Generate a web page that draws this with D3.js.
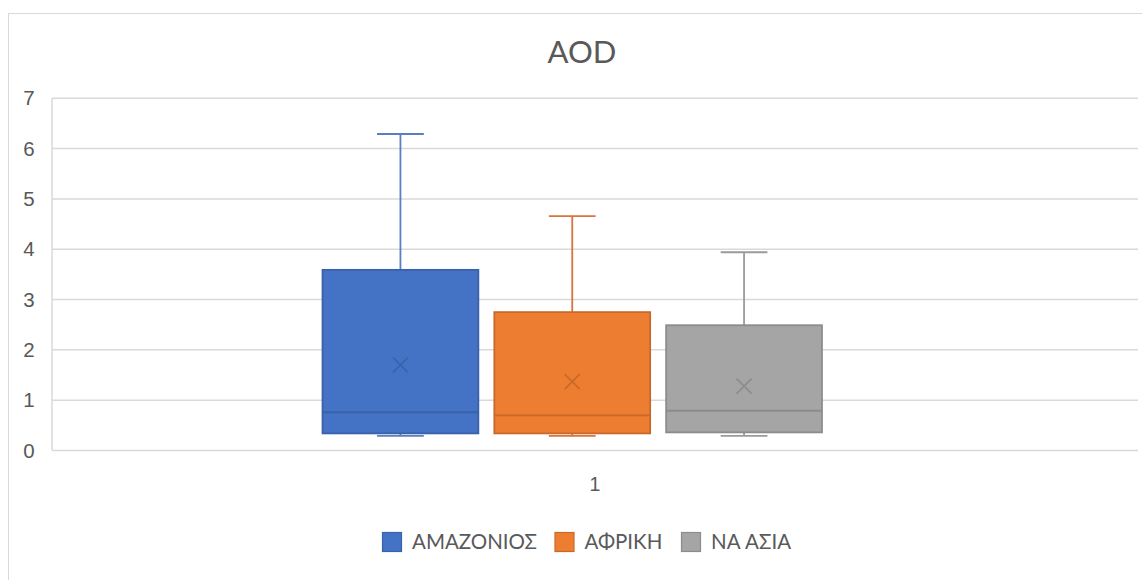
<!DOCTYPE html>
<html>
<head>
<meta charset="utf-8">
<script src="https://cdn.jsdelivr.net/npm/d3@7/dist/d3.min.js"></script>
<style>
  html, body { margin: 0; padding: 0; background: #fff; }
  svg { display: block; font-family: Lato, "Open Sans", "Noto Sans", sans-serif; }
</style>
</head>
<body>
<svg id="chart" width="1142" height="580"></svg>
<script>
// Box-and-whisker summary of AOD for three regions (single category "1")
const chartTitle = "AOD";
const categories = ["1"];
const seriesNames = ["ΑΜΑΖΟΝΙΟΣ", "ΑΦΡΙΚΗ", "ΝΑ ΑΣΙΑ"];
const minValues    = [0.29, 0.29, 0.29];
const q1Values     = [0.34, 0.34, 0.36];
const medianValues = [0.76, 0.70, 0.79];
const q3Values     = [3.59, 2.75, 2.49];
const maxValues    = [6.29, 4.66, 3.94];
const meanValues   = [1.70, 1.37, 1.28];
const yTicks = [0, 1, 2, 3, 4, 5, 6, 7];

const fills   = ["#4472C4", "#ED7D31", "#A5A5A5"];
const strokes = ["#3A62AB", "#C8692A", "#8C8C8C"];
const whiskerColors = ["#5A7EC0", "#D9743A", "#9A9A9A"];

const svg = d3.select("#chart");
const plot = { left: 52, right: 1138, top: 98.3, bottom: 450.5 };

// outer chart frame
svg.append("rect")
  .attr("x", 8.5).attr("y", 13.5)
  .attr("width", 1145).attr("height", 580)
  .attr("fill", "#fff").attr("stroke", "#D9D9D9").attr("stroke-width", 1);

const y = d3.scaleLinear().domain([0, 7]).range([plot.bottom, plot.top]);

// category band and series positions inside it
const x = d3.scaleBand().domain(categories).range([plot.left, plot.right]);
const inner = d3.scaleBand()
  .domain(seriesNames)
  .range([x.bandwidth() * 0.2491, x.bandwidth() * 0.7090])
  .paddingInner(0.093).paddingOuter(0);

// gridlines
svg.append("g")
  .selectAll("line")
  .data(yTicks.filter(t => t > 0))
  .join("line")
  .attr("x1", plot.left).attr("x2", plot.right)
  .attr("y1", d => y(d)).attr("y2", d => y(d))
  .attr("stroke", "#D9D9D9").attr("stroke-width", 1.5);

// axis lines
svg.append("line")
  .attr("x1", plot.left).attr("x2", plot.left)
  .attr("y1", plot.top).attr("y2", plot.bottom)
  .attr("stroke", "#D9D9D9").attr("stroke-width", 1.5);
svg.append("line")
  .attr("x1", plot.left).attr("x2", plot.right)
  .attr("y1", plot.bottom).attr("y2", plot.bottom)
  .attr("stroke", "#D9D9D9").attr("stroke-width", 1.5);

// y axis tick labels
const yAxis = d3.axisLeft(y).tickValues(yTicks).tickSize(0).tickPadding(0)
  .tickFormat(d3.format("d"));
const yg = svg.append("g").attr("transform", `translate(29,0)`).call(yAxis);
yg.select(".domain").remove();
yg.selectAll("text")
  .attr("fill", "#595959").attr("font-size", 20.5).attr("text-anchor", "middle").attr("dx", 0);

// x axis category label
const xAxis = d3.axisBottom(x).tickSize(0).tickPadding(0);
const xg = svg.append("g").attr("transform", `translate(0,${plot.bottom + 27})`).call(xAxis);
xg.select(".domain").remove();
xg.selectAll("text").attr("fill", "#595959").attr("font-size", 19.5);

// boxes
const data = seriesNames.map((name, i) => ({
  name, i,
  min: minValues[i], q1: q1Values[i], med: medianValues[i],
  q3: q3Values[i], max: maxValues[i], mean: meanValues[i]
}));

const g = svg.append("g").attr("transform", `translate(${x(categories[0])},0)`);
const bw = inner.bandwidth();
const capW = bw * 0.3;

const box = g.selectAll("g.box").data(data).join("g").attr("class", "box");

// whiskers
box.append("line")
  .attr("x1", d => inner(d.name) + bw / 2).attr("x2", d => inner(d.name) + bw / 2)
  .attr("y1", d => y(d.q3)).attr("y2", d => y(d.max))
  .attr("stroke", d => whiskerColors[d.i]).attr("stroke-width", 1.8);
box.append("line")
  .attr("x1", d => inner(d.name) + bw / 2).attr("x2", d => inner(d.name) + bw / 2)
  .attr("y1", d => y(d.q1)).attr("y2", d => y(d.min))
  .attr("stroke", d => whiskerColors[d.i]).attr("stroke-width", 1.8);
box.append("line")
  .attr("x1", d => inner(d.name) + bw / 2 - capW / 2).attr("x2", d => inner(d.name) + bw / 2 + capW / 2)
  .attr("y1", d => y(d.max)).attr("y2", d => y(d.max))
  .attr("stroke", d => whiskerColors[d.i]).attr("stroke-width", 1.8);
box.append("line")
  .attr("x1", d => inner(d.name) + bw / 2 - capW / 2).attr("x2", d => inner(d.name) + bw / 2 + capW / 2)
  .attr("y1", d => y(d.min)).attr("y2", d => y(d.min))
  .attr("stroke", d => whiskerColors[d.i]).attr("stroke-width", 1.8);

// interquartile box
box.append("rect")
  .attr("x", d => inner(d.name)).attr("width", bw)
  .attr("y", d => y(d.q3)).attr("height", d => y(d.q1) - y(d.q3))
  .attr("fill", d => fills[d.i]).attr("stroke", d => strokes[d.i]).attr("stroke-width", 1.8);

// median line
box.append("line")
  .attr("x1", d => inner(d.name)).attr("x2", d => inner(d.name) + bw)
  .attr("y1", d => y(d.med)).attr("y2", d => y(d.med))
  .attr("stroke", d => strokes[d.i]).attr("stroke-width", 1.8);

// mean marker (x)
const m = 7.5;
box.append("path")
  .attr("d", d => {
    const cx = inner(d.name) + bw / 2, cy = y(d.mean);
    return `M${cx - m},${cy - m}L${cx + m},${cy + m}M${cx - m},${cy + m}L${cx + m},${cy - m}`;
  })
  .attr("stroke", d => strokes[d.i]).attr("stroke-width", 1.6).attr("fill", "none");

// title
svg.append("text")
  .attr("x", 582).attr("y", 63)
  .attr("text-anchor", "middle")
  .attr("fill", "#595959").attr("font-size", 31)
  .text(chartTitle);

// legend
const legendX = [382, 554.5, 681];
const lg = svg.append("g").selectAll("g").data(seriesNames).join("g")
  .attr("transform", (d, i) => `translate(${legendX[i]},532)`);
lg.append("rect")
  .attr("x", 0.5).attr("y", 0.5).attr("width", 19).attr("height", 19)
  .attr("fill", (d, i) => fills[i]).attr("stroke", (d, i) => strokes[i]).attr("stroke-width", 1.2);
lg.append("text")
  .attr("x", 30).attr("y", 17)
  .attr("fill", "#595959").attr("font-size", 20.5)
  .text(d => d);
</script>
</body>
</html>
